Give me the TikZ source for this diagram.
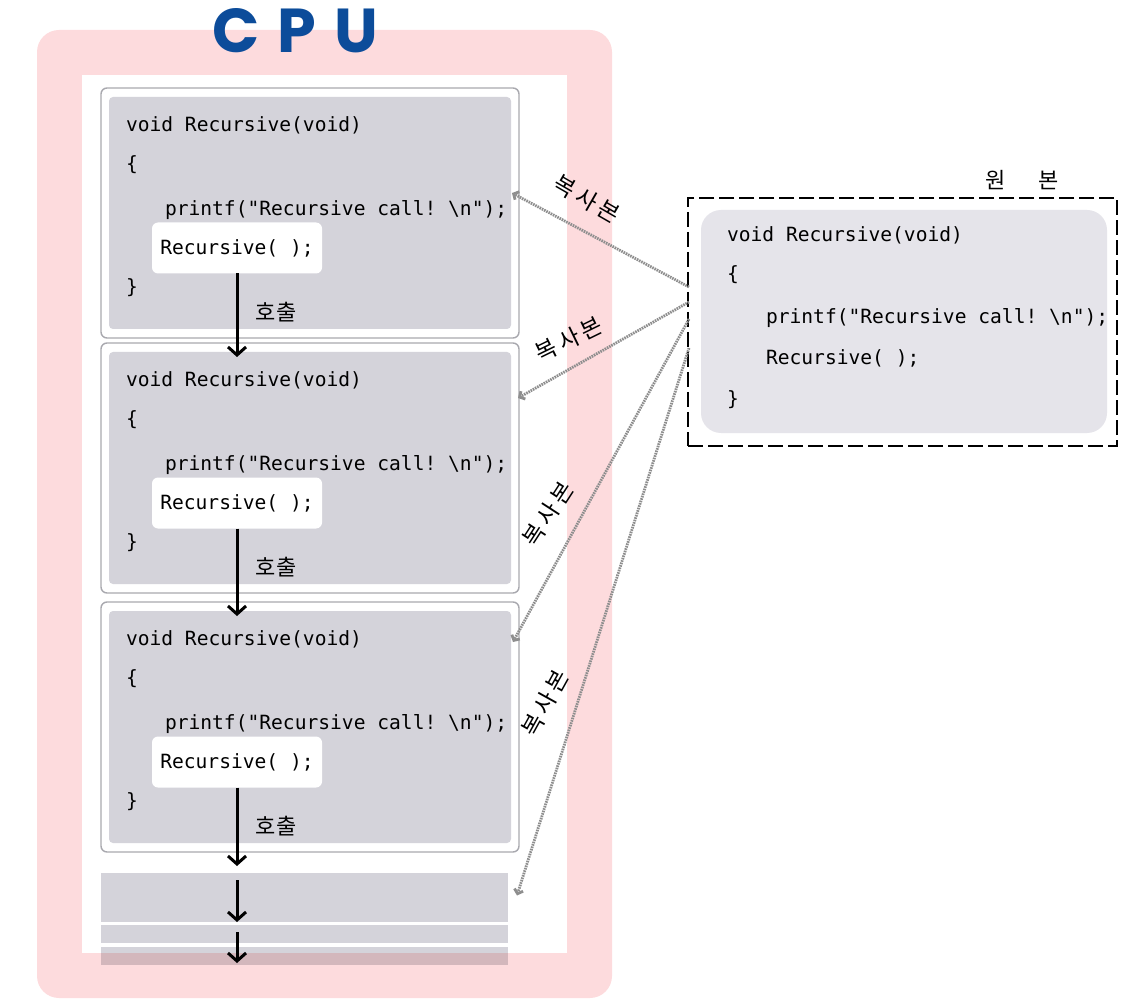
\documentclass[tikz,border=0pt]{standalone}
\usepackage{fontspec}
\setmonofont{DejaVu Sans Mono}
\newfontfamily\krfont{Noto Sans CJK KR}
\newfontfamily\cpufont{Poppins}
\usetikzlibrary{arrows.meta, calc}
\definecolor{cpupink}{HTML}{FDDBDD}
\definecolor{cpublue}{HTML}{0C4C9A}
\definecolor{bodygray}{HTML}{D4D3DA}
\definecolor{origgray}{HTML}{E5E4EA}
\definecolor{framegray}{HTML}{A9A9AF}
\definecolor{copygray}{HTML}{8E8E8E}
\definecolor{stripepink}{HTML}{D3B7BC}
\frenchspacing
\newcommand{\copytext}{복\hspace{4pt}사\hspace{4pt}본}

\begin{document}
\begin{tikzpicture}[x=1pt, y=-1pt,
    every node/.style={inner sep=0pt, outer sep=0pt},
    code/.style={font=\fontsize{19.6}{22}\selectfont\ttfamily, text=black, anchor=west},
    frame/.style={draw=framegray, line width=1.4pt, rounded corners=6pt, fill=white, minimum width=418pt, minimum height=250pt, anchor=north west},
    body/.style={fill=bodygray, rounded corners=4pt, minimum width=402pt, minimum height=232pt, anchor=north west},
    callbox/.style={code, fill=white, rounded corners=6pt, minimum width=170pt, minimum height=51pt, anchor=center},
    stripe/.style={fill=bodygray, minimum width=407pt, anchor=north west},
    call/.style={line width=3pt, -{Straight Barb[length=8pt, width=18pt]}},
    copy/.style={draw=copygray, line width=2.8pt, dash pattern=on 1.6pt off 0.9pt, -{Straight Barb[length=4pt, width=9pt]}},
    krlabel/.style={font=\krfont\fontsize{22}{22}\selectfont},
    copylbl/.style={font=\krfont\fontsize{23}{23}\selectfont},
  ]
  \useasboundingbox (0,0) rectangle (1141,1000);

  % CPU area
  \fill[cpupink, rounded corners=22pt] (37,30) rectangle (612,998);
  \fill[white] (82,75) rectangle (567,953);
  \node[font=\cpufont\bfseries\fontsize{62}{62}\selectfont, text=cpublue] (cpu) at (295,31) {C\hspace{18pt}P\hspace{18pt}U};

  % copies on the stack
  \foreach \i/\y in {1/88, 2/343, 3/602} {
    \node[frame] (frame\i) at (101,\y) {};
    \node[body] (body\i) at (109,\y+9) {};
    \node[code] (head\i) at (126,\y+37) {void Recursive(void)};
    \node[code] (lbrace\i) at (126,\y+77) {\{};
    \node[code] (print\i) at (165,\y+122) {printf("Recursive call! \textbackslash n");};
    \node[callbox] (call\i) at (237,\y+160) {Recursive(~);};
    \node[code] (rbrace\i) at (126,\y+200) {\}};
    \node[krlabel] (lbl\i) at (276,\y+224) {호출};
  }
  \node[stripe, minimum height=49pt] (stripe1) at (101,873) {};
  \node[stripe, minimum height=18pt] (stripe2) at (101,925) {};
  \node[stripe, minimum height=18pt] (stripe3) at (101,947) {};
  \fill[stripepink] (101,953) rectangle (stripe3.south east);

  % calls
  \foreach \i/\j in {1/2, 2/3}
    \draw[call] (call\i.south) -- ([yshift=-5pt]call\i.south |- body\j.north);
  \draw[call] (call3.south) -- ([yshift=7pt]call3.south |- stripe1.north);
  \draw[call] ([yshift=-7pt]stripe1.north -| call3.south) -- (stripe1.south -| call3.south);
  \draw[call] ([yshift=-7pt]stripe2.north -| call3.south) -- ([yshift=2pt]stripe3.south -| call3.south);

  % original
  \node[draw, fill=white, line width=2.6pt, dash pattern=on 15pt off 5pt, minimum width=429pt, minimum height=248pt, anchor=north west] (orig) at (688,198) {};
  \node[fill=origgray, rounded corners=20pt, minimum width=406pt, minimum height=223pt, anchor=north west] (origbody) at (701,210) {};
  \node[code] (ohead) at (727,235) {void Recursive(void)};
  \node[code] (olbrace) at (727,275) {\{};
  \node[code] (oprint) at (766,318) {printf("Recursive call! \textbackslash n");};
  \node[code] (ocall) at (766,358) {Recursive(~);};
  \node[code] (orbrace) at (727,400) {\}};
  \node[krlabel] (origlbl) at (1022,180) {원\hspace{33pt}본};

  % copy lines
  \draw[copy] ($(orig.west)+(1,-35)$) -- ($(frame1.north east)+(-7,105)$);
  \draw[copy] ($(orig.west)+(1,-20)$) -- ($(frame2.north east)+(-1,55)$);
  \draw[copy] ($(orig.west)+(1,-3)$) -- ($(frame3.north east)+(-6,40)$);
  \draw[copy] ($(orig.west)+(1,26)$) -- ($(stripe1.east)+(9,-2)$);
  \node[copylbl, rotate=-30] (copy1) at (587,199) {\copytext};
  \node[copylbl, rotate=26] (copy2) at (569,339) {\copytext};
  \node[copylbl, rotate=57] (copy3) at (548,514) {\copytext};
  \node[copylbl, rotate=61] (copy4) at (545,703) {\copytext};
\end{tikzpicture}
\end{document}
